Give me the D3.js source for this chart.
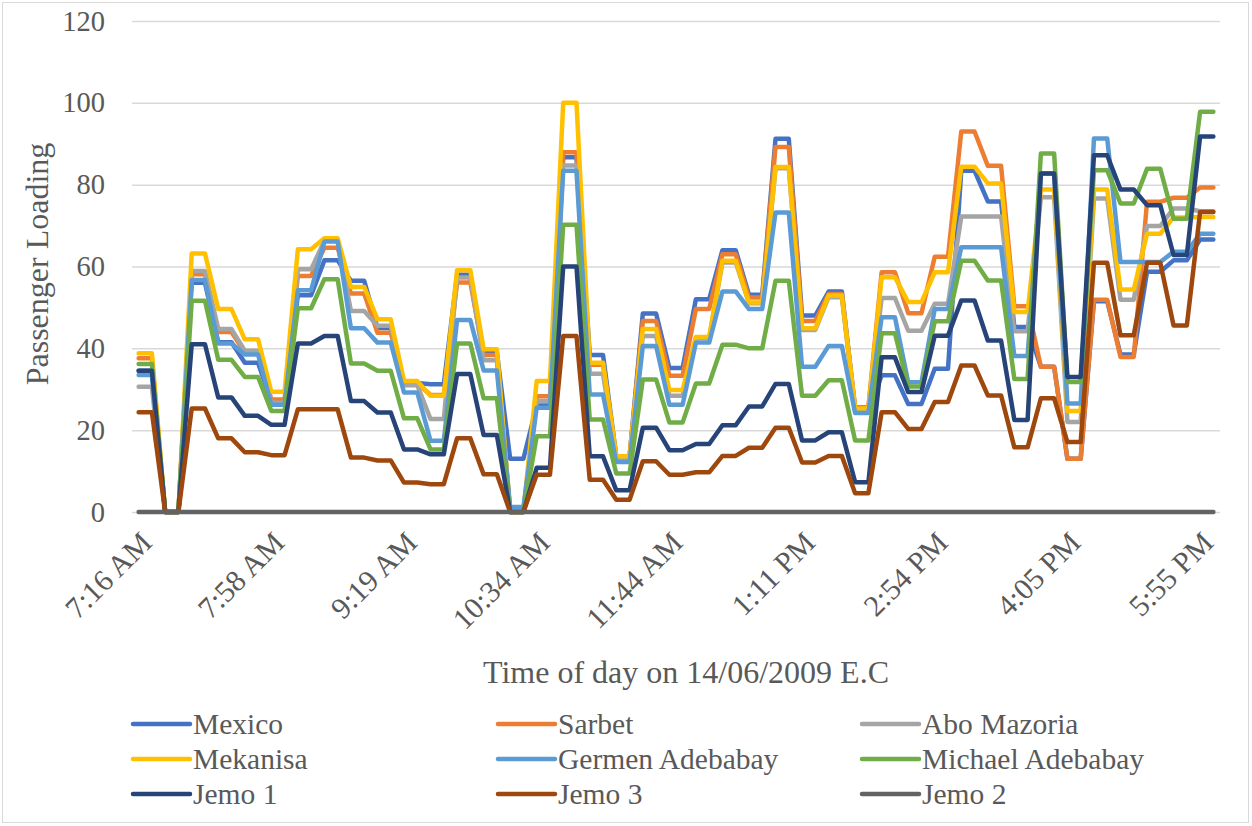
<!DOCTYPE html>
<html>
<head>
<meta charset="utf-8">
<script src="https://cdn.jsdelivr.net/npm/d3@7"></script>
<style>
  body { margin: 0; background: #fff; }
  text { font-family: "Liberation Serif", "Times New Roman", serif; fill: #595959; }
</style>
</head>
<body>
<svg id="chart" width="1252" height="826"></svg>
<script>
// ---------------- DATA ----------------
const tickLabels = ["7:16 AM", "7:58 AM", "9:19 AM", "10:34 AM", "11:44 AM", "1:11 PM", "2:54 PM", "4:05 PM", "5:55 PM"];
const tickIndex = [0, 10, 20, 30, 40, 50, 60, 70, 80];
const pointCount = 82;

const seriesNames = ["Mexico", "Sarbet", "Abo Mazoria", "Mekanisa", "Germen Adebabay", "Michael Adebabay", "Jemo 1", "Jemo 3", "Jemo 2"];
const seriesColors = ["#4472C4", "#ED7D31", "#A5A5A5", "#FFC000", "#5B9BD5", "#70AD47", "#264478", "#9E480E", "#636363"];

const mexico = [34.5,34.5, 0,0, 56,56, 41.5,41.5, 36.5,36.5, 27,27, 53,53, 61.5,61.5, 56.5,56.5, 45,45,
  31.5,31.5, 31.2,31.2, 58,58, 39,39, 13,13, 26,26, 86.7,86.7, 38.4,38.4, 13.5,13.5, 48.5,48.5,
  35.2,35.2, 52,52, 64,64, 53.1,53.1, 91.2,91.2, 48,48, 53.9,53.9, 25,25, 33.4,33.4, 26.4,26.4,
  35,35, 83.4,83.4, 75.9,75.9, 45.2,45.2, 35.5,35.5, 13,13, 51.5,51.5, 38.5,38.5, 58.7,58.7, 61.5,61.5,
  66.6,66.6];
const sarbet = [37.6,37.6, 0,0, 58.1,58.1, 44,44, 39,39, 27.5,27.5, 57.7,57.7, 64.6,64.6, 53.4,53.4, 43.8,43.8,
  31.5,31.5, 28.6,28.6, 56.1,56.1, 38.4,38.4, 0,0, 28.3,28.3, 87.9,87.9, 36,36, 13.5,13.5, 46.7,46.7,
  33.3,33.3, 49.6,49.6, 63,63, 52.4,52.4, 89.2,89.2, 46.7,46.7, 53.3,53.3, 25.6,25.6, 58.6,58.6, 48.6,48.6,
  62.4,62.4, 93,93, 84.6,84.6, 50.3,50.3, 35.5,35.5, 13,13, 51.9,51.9, 37.9,37.9, 75.8,75.8, 76.8,76.8,
  79.3,79.3];
const aboMazoria = [30.6,30.6, 0,0, 58.9,58.9, 44.7,44.7, 39.4,39.4, 26.7,26.7, 59.3,59.3, 66.3,66.3, 49.1,49.1, 45.5,45.5,
  31,31, 22.7,22.7, 57.3,57.3, 37.1,37.1, 0,0, 27.1,27.1, 84.7,84.7, 33.8,33.8, 13,13, 43,43,
  28.4,28.4, 42.5,42.5, 61,61, 51,51, 84,84, 44.5,44.5, 52.5,52.5, 25,25, 52.3,52.3, 44.3,44.3,
  50.9,50.9, 72.2,72.2, 72.2,72.2, 44.2,44.2, 76.9,76.9, 22,22, 76.6,76.6, 51.9,51.9, 69.9,69.9, 74.2,74.2,
  73.5,73.5];
const mekanisa = [38.8,38.8, 0,0, 63.2,63.2, 49.6,49.6, 42.2,42.2, 29.4,29.4, 64.2,64.2, 66.9,66.9, 55,55, 47.1,47.1,
  32,32, 28.4,28.4, 59.1,59.1, 39.8,39.8, 0,0, 32,32, 100,100, 36.5,36.5, 13.6,13.6, 44.7,44.7,
  29.8,29.8, 42.8,42.8, 61.4,61.4, 51.2,51.2, 84.3,84.3, 44.9,44.9, 52.9,52.9, 25.3,25.3, 57.4,57.4, 51.3,51.3,
  58.6,58.6, 84.4,84.4, 80.3,80.3, 48.9,48.9, 78.8,78.8, 24.7,24.7, 78.8,78.8, 54.4,54.4, 68,68, 72,72,
  72.1,72.1];
const germenAdebabay = [33.5,33.5, 0,0, 56.7,56.7, 41.2,41.2, 38.5,38.5, 26.2,26.2, 54.2,54.2, 66.1,66.1, 44.9,44.9, 41.4,41.4,
  29.2,29.2, 17.4,17.4, 46.9,46.9, 34.6,34.6, 1.2,1.2, 25.5,25.5, 83.4,83.4, 28.7,28.7, 12.2,12.2, 40.6,40.6,
  26.2,26.2, 41.4,41.4, 53.9,53.9, 49.6,49.6, 73.2,73.2, 35.5,35.5, 40.6,40.6, 24.2,24.2, 47.6,47.6, 31.7,31.7,
  49.6,49.6, 64.7,64.7, 64.7,64.7, 38.1,38.1, 82.7,82.7, 26.5,26.5, 91.3,91.3, 61.1,61.1, 61.1,61.1, 63.6,63.6,
  68,68];
const michaelAdebabay = [36.2,36.2, 0,0, 51.6,51.6, 37.2,37.2, 33,33, 24.7,24.7, 49.8,49.8, 56.9,56.9, 36.3,36.3, 34.5,34.5,
  22.9,22.9, 15.3,15.3, 41.2,41.2, 27.8,27.8, 0,0, 18.5,18.5, 70.2,70.2, 22.6,22.6, 9.4,9.4, 32.4,32.4,
  21.9,21.9, 31.4,31.4, 40.9,40.9, 40,40, 56.5,56.5, 28.4,28.4, 32.2,32.2, 17.5,17.5, 43.7,43.7, 30.7,30.7,
  46.6,46.6, 61.4,61.4, 56.6,56.6, 32.5,32.5, 87.6,87.6, 31.8,31.8, 83.5,83.5, 75.4,75.4, 83.9,83.9, 71.7,71.7,
  97.8,97.8];
const jemo1 = [34.5,34.5, 0,0, 41,41, 28,28, 23.5,23.5, 21.3,21.3, 41.2,41.2, 43,43, 27.1,27.1, 24.3,24.3,
  15.3,15.3, 14.1,14.1, 33.7,33.7, 18.8,18.8, 0,0, 10.8,10.8, 60,60, 13.6,13.6, 5.3,5.3, 20.6,20.6,
  15.1,15.1, 16.6,16.6, 21.2,21.2, 25.8,25.8, 31.3,31.3, 17.5,17.5, 19.5,19.5, 7.3,7.3, 37.8,37.8, 29.3,29.3,
  43.1,43.1, 51.7,51.7, 41.9,41.9, 22.5,22.5, 82.7,82.7, 33,33, 87.2,87.2, 78.8,78.8, 75,75, 62.8,62.8,
  91.8,91.8];
const jemo3 = [24.4,24.4, 0,0, 25.3,25.3, 18,18, 14.6,14.6, 13.9,13.9, 25.1,25.1, 25.1,25.1, 13.3,13.3, 12.6,12.6,
  7.2,7.2, 6.8,6.8, 18,18, 9.2,9.2, 0,0, 9.1,9.1, 43,43, 7.9,7.9, 3,3, 12.4,12.4,
  9.1,9.1, 9.7,9.7, 13.7,13.7, 15.7,15.7, 20.6,20.6, 12.1,12.1, 13.7,13.7, 4.6,4.6, 24.4,24.4, 20.3,20.3,
  26.9,26.9, 35.8,35.8, 28.5,28.5, 15.8,15.8, 27.8,27.8, 17.1,17.1, 60.9,60.9, 43.2,43.2, 60.9,60.9, 45.6,45.6,
  73.3,73.3];
const jemo2 = [0,0, 0,0, 0,0, 0,0, 0,0, 0,0, 0,0, 0,0, 0,0, 0,0,
  0,0, 0,0, 0,0, 0,0, 0,0, 0,0, 0,0, 0,0, 0,0, 0,0,
  0,0, 0,0, 0,0, 0,0, 0,0, 0,0, 0,0, 0,0, 0,0, 0,0,
  0,0, 0,0, 0,0, 0,0, 0,0, 0,0, 0,0, 0,0, 0,0, 0,0,
  0,0];

const yTicks = [0, 20, 40, 60, 80, 100, 120];
const yTitle = "Passenger Loading";
const xTitle = "Time of day on 14/06/2009 E.C";

// ---------------- CHART ----------------
const seriesValues = [mexico, sarbet, aboMazoria, mekanisa, germenAdebabay, michaelAdebabay, jemo1, jemo3, jemo2];
const series = seriesNames.map((name, i) => ({ name, color: seriesColors[i], values: seriesValues[i] }));

const svg = d3.select("#chart");
const plot = { left: 132, right: 1220, top: 21, bottom: 512 };
const fontFamily = '"Liberation Serif", "Times New Roman", serif';

// chart-area border
svg.append("rect")
  .attr("x", 2.5).attr("y", 2.5).attr("width", 1246).attr("height", 820)
  .attr("fill", "none").attr("stroke", "#d9d9d9").attr("stroke-width", 1);

const x = d3.scalePoint().domain(d3.range(pointCount)).range([plot.left, plot.right]).padding(0.5);
const y = d3.scaleLinear().domain([0, 120]).range([plot.bottom, plot.top]);

// Y axis with gridlines
const yAxis = svg.append("g")
  .attr("transform", `translate(${plot.left},0)`)
  .call(d3.axisLeft(y).tickValues(yTicks).tickSize(-(plot.right - plot.left)).tickPadding(27));
yAxis.select(".domain").remove();
yAxis.selectAll(".tick line").attr("stroke", "#d9d9d9").attr("stroke-width", 1.5);
yAxis.selectAll(".tick text")
  .style("font-family", fontFamily)
  .style("font-size", "28.5px").attr("fill", "#595959");

// X axis labels (rotated)
const xAxis = svg.append("g")
  .attr("transform", `translate(0,${plot.bottom})`)
  .call(d3.axisBottom(x).tickValues(tickIndex).tickFormat((d, i) => tickLabels[i]).tickSize(0));
xAxis.select(".domain").remove();
xAxis.selectAll(".tick text")
  .attr("x", 0).attr("y", 0).attr("dy", "0.35em")
  .attr("text-anchor", "end")
  .attr("transform", "translate(7,25) rotate(-45)")
  .style("font-family", fontFamily)
  .style("font-size", "30px").attr("fill", "#595959");

// Lines
const line = d3.line().x((d, i) => x(i)).y(d => y(d));
svg.append("g").selectAll("path")
  .data(series)
  .join("path")
  .attr("d", d => line(d.values))
  .attr("fill", "none")
  .attr("stroke", d => d.color)
  .attr("stroke-width", 4.5)
  .attr("stroke-linejoin", "round")
  .attr("stroke-linecap", "round");

// Axis titles
svg.append("text")
  .attr("transform", "translate(37,264) rotate(-90)")
  .attr("text-anchor", "middle").attr("dominant-baseline", "central")
  .style("font-size", "32px").text(yTitle);
svg.append("text")
  .attr("x", 686).attr("y", 672)
  .attr("text-anchor", "middle").attr("dominant-baseline", "central")
  .style("font-size", "32px").text(xTitle);

// Legend (3 columns x 3 rows)
const legendCols = [133, 498, 862];
const legendRows = [724, 759, 794];
const legend = svg.append("g").selectAll("g")
  .data(series)
  .join("g")
  .attr("transform", (d, i) => `translate(${legendCols[i % 3]},${legendRows[Math.floor(i / 3)]})`);
legend.append("line")
  .attr("x1", 0).attr("x2", 57).attr("y1", 0).attr("y2", 0)
  .attr("stroke", d => d.color).attr("stroke-width", 4.5).attr("stroke-linecap", "round");
legend.append("text")
  .attr("x", 60).attr("y", 0).attr("dominant-baseline", "central")
  .style("font-size", "29.5px").text(d => d.name);
</script>
</body>
</html>
